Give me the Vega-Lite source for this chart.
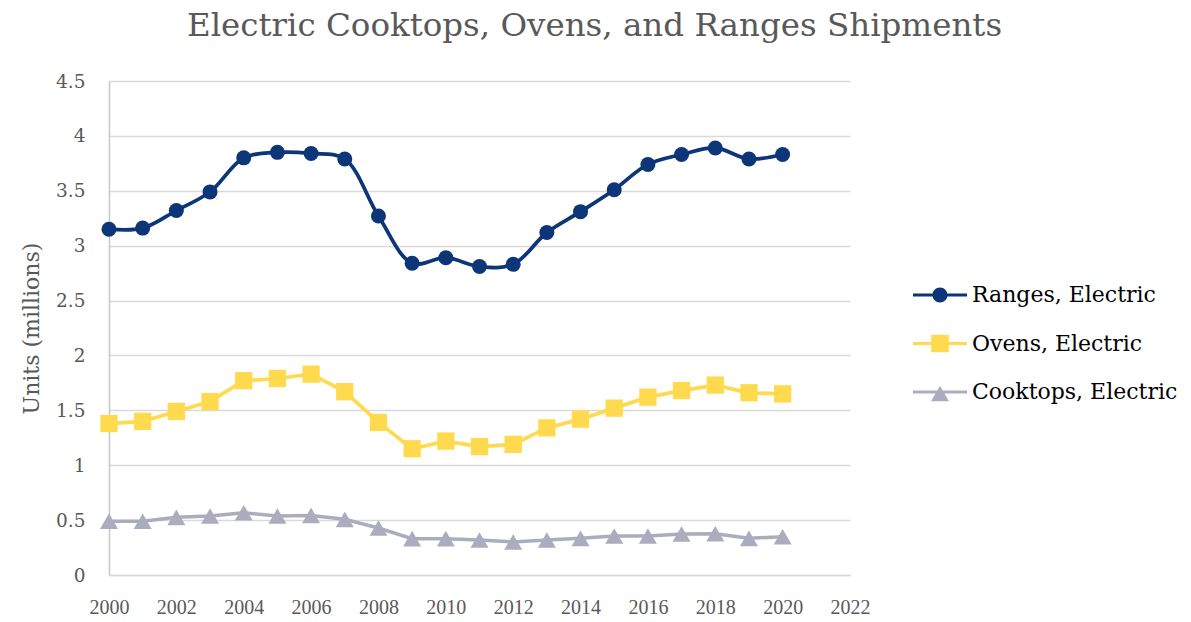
{
  "$schema": "https://vega.github.io/schema/vega-lite/v6.json",
  "width": 741,
  "height": 494,
  "autosize": {"type": "none"},
  "padding": {"left": 109, "top": 81, "right": 341, "bottom": 47},
  "background": "white",
  "config": {"view": {"stroke": null}},
  "title": {
    "text": "Electric Cooktops, Ovens, and Ranges Shipments",
    "font": "DejaVu Serif",
    "fontSize": 32.5,
    "fontWeight": "normal",
    "color": "#595959",
    "anchor": "middle",
    "frame": "group",
    "dx": 115,
    "offset": 30
  },
  "data": {
    "values": [
      {"year": 2000, "series": "Ranges, Electric", "value": 3.15},
      {"year": 2001, "series": "Ranges, Electric", "value": 3.16},
      {"year": 2002, "series": "Ranges, Electric", "value": 3.32},
      {"year": 2003, "series": "Ranges, Electric", "value": 3.49},
      {"year": 2004, "series": "Ranges, Electric", "value": 3.8},
      {"year": 2005, "series": "Ranges, Electric", "value": 3.85},
      {"year": 2006, "series": "Ranges, Electric", "value": 3.84},
      {"year": 2007, "series": "Ranges, Electric", "value": 3.79},
      {"year": 2008, "series": "Ranges, Electric", "value": 3.27},
      {"year": 2009, "series": "Ranges, Electric", "value": 2.84},
      {"year": 2010, "series": "Ranges, Electric", "value": 2.89},
      {"year": 2011, "series": "Ranges, Electric", "value": 2.81},
      {"year": 2012, "series": "Ranges, Electric", "value": 2.83},
      {"year": 2013, "series": "Ranges, Electric", "value": 3.12},
      {"year": 2014, "series": "Ranges, Electric", "value": 3.31},
      {"year": 2015, "series": "Ranges, Electric", "value": 3.51},
      {"year": 2016, "series": "Ranges, Electric", "value": 3.74},
      {"year": 2017, "series": "Ranges, Electric", "value": 3.83},
      {"year": 2018, "series": "Ranges, Electric", "value": 3.89},
      {"year": 2019, "series": "Ranges, Electric", "value": 3.79},
      {"year": 2020, "series": "Ranges, Electric", "value": 3.83},
      {"year": 2000, "series": "Ovens, Electric", "value": 1.38},
      {"year": 2001, "series": "Ovens, Electric", "value": 1.4},
      {"year": 2002, "series": "Ovens, Electric", "value": 1.49},
      {"year": 2003, "series": "Ovens, Electric", "value": 1.58},
      {"year": 2004, "series": "Ovens, Electric", "value": 1.77},
      {"year": 2005, "series": "Ovens, Electric", "value": 1.79},
      {"year": 2006, "series": "Ovens, Electric", "value": 1.83},
      {"year": 2007, "series": "Ovens, Electric", "value": 1.67},
      {"year": 2008, "series": "Ovens, Electric", "value": 1.39},
      {"year": 2009, "series": "Ovens, Electric", "value": 1.15},
      {"year": 2010, "series": "Ovens, Electric", "value": 1.22},
      {"year": 2011, "series": "Ovens, Electric", "value": 1.17},
      {"year": 2012, "series": "Ovens, Electric", "value": 1.19},
      {"year": 2013, "series": "Ovens, Electric", "value": 1.34},
      {"year": 2014, "series": "Ovens, Electric", "value": 1.42},
      {"year": 2015, "series": "Ovens, Electric", "value": 1.52},
      {"year": 2016, "series": "Ovens, Electric", "value": 1.62},
      {"year": 2017, "series": "Ovens, Electric", "value": 1.68},
      {"year": 2018, "series": "Ovens, Electric", "value": 1.73},
      {"year": 2019, "series": "Ovens, Electric", "value": 1.66},
      {"year": 2020, "series": "Ovens, Electric", "value": 1.65},
      {"year": 2000, "series": "Cooktops, Electric", "value": 0.49},
      {"year": 2001, "series": "Cooktops, Electric", "value": 0.49},
      {"year": 2002, "series": "Cooktops, Electric", "value": 0.525},
      {"year": 2003, "series": "Cooktops, Electric", "value": 0.537},
      {"year": 2004, "series": "Cooktops, Electric", "value": 0.567},
      {"year": 2005, "series": "Cooktops, Electric", "value": 0.537},
      {"year": 2006, "series": "Cooktops, Electric", "value": 0.543},
      {"year": 2007, "series": "Cooktops, Electric", "value": 0.507},
      {"year": 2008, "series": "Cooktops, Electric", "value": 0.428},
      {"year": 2009, "series": "Cooktops, Electric", "value": 0.331},
      {"year": 2010, "series": "Cooktops, Electric", "value": 0.331},
      {"year": 2011, "series": "Cooktops, Electric", "value": 0.319},
      {"year": 2012, "series": "Cooktops, Electric", "value": 0.3},
      {"year": 2013, "series": "Cooktops, Electric", "value": 0.319},
      {"year": 2014, "series": "Cooktops, Electric", "value": 0.334},
      {"year": 2015, "series": "Cooktops, Electric", "value": 0.355},
      {"year": 2016, "series": "Cooktops, Electric", "value": 0.355},
      {"year": 2017, "series": "Cooktops, Electric", "value": 0.373},
      {"year": 2018, "series": "Cooktops, Electric", "value": 0.376},
      {"year": 2019, "series": "Cooktops, Electric", "value": 0.334},
      {"year": 2020, "series": "Cooktops, Electric", "value": 0.349}
    ]
  },
  "encoding": {
    "x": {
      "field": "year",
      "type": "quantitative",
      "scale": {"domain": [2000, 2022], "nice": false, "zero": false},
      "axis": {
        "values": [2000, 2002, 2004, 2006, 2008, 2010, 2012, 2014, 2016, 2018, 2020, 2022],
        "format": "d",
        "title": null,
        "grid": false,
        "ticks": false,
        "tickSize": 0,
        "domain": true,
        "domainColor": "#D9D9D9",
        "domainWidth": 1.5,
        "labelFont": "Liberation Serif",
        "labelFontSize": 20,
        "labelColor": "#595959",
        "labelPadding": 22,
        "labelFlush": false
      }
    },
    "y": {
      "field": "value",
      "type": "quantitative",
      "scale": {"domain": [0, 4.5], "nice": false},
      "axis": {
        "values": [0, 0.5, 1, 1.5, 2, 2.5, 3, 3.5, 4, 4.5],
        "format": "~g",
        "title": "Units (millions)",
        "grid": true,
        "gridColor": "#D9D9D9",
        "gridWidth": 1.5,
        "domain": true,
        "domainColor": "#C8C8C8",
        "domainWidth": 1.5,
        "ticks": false,
        "tickSize": 0,
        "labelFont": "DejaVu Serif",
        "labelFontSize": 18.5,
        "labelColor": "#595959",
        "labelPadding": 24,
        "titleFont": "DejaVu Serif",
        "titleFontSize": 22,
        "titleFontWeight": "normal",
        "titleColor": "#595959",
        "titlePadding": 12
      }
    }
  },
  "layer": [
    {
      "transform": [{"filter": "datum.series === 'Ranges, Electric'"}],
      "mark": {"type": "line", "interpolate": "catmull-rom", "strokeWidth": 3.75, "color": "#0C3677"}
    },
    {
      "transform": [{"filter": "datum.series === 'Ovens, Electric'"}],
      "mark": {"type": "line", "interpolate": "linear", "strokeWidth": 3.75, "color": "#FFDA4F"}
    },
    {
      "transform": [{"filter": "datum.series === 'Cooktops, Electric'"}],
      "mark": {"type": "line", "interpolate": "linear", "strokeWidth": 3.5, "color": "#ABADBF"}
    },
    {
      "transform": [{"filter": "datum.series === 'Ranges, Electric'"}],
      "mark": {"type": "point", "filled": true, "opacity": 1, "shape": "circle", "size": 225, "color": "#0C3677", "strokeWidth": 0}
    },
    {
      "transform": [{"filter": "datum.series === 'Ovens, Electric'"}],
      "mark": {"type": "point", "filled": true, "opacity": 1, "shape": "square", "size": 300, "color": "#FFDA4F", "strokeWidth": 0}
    },
    {
      "transform": [{"filter": "datum.series === 'Cooktops, Electric'"}],
      "mark": {"type": "point", "filled": true, "opacity": 1, "shape": "triangle-up", "size": 324, "color": "#ABADBF", "strokeWidth": 0}
    },
    {
      "mark": {"type": "point", "filled": true, "opacity": 0, "size": 10},
      "encoding": {
        "fill": {
          "field": "series",
          "type": "nominal",
          "scale": {"domain": ["Ranges, Electric", "Ovens, Electric", "Cooktops, Electric"], "range": ["#0C3677", "#FFDA4F", "#ABADBF"]},
          "legend": {
            "orient": "none",
            "legendX": 804,
            "legendY": 187,
            "title": null,
            "padding": 0,
            "symbolSize": 2916,
            "symbolStrokeWidth": 0,
            "symbolOpacity": 1,
            "labelFont": "DejaVu Serif",
            "labelFontSize": 22,
            "labelColor": "#000000",
            "labelOffset": 5,
            "labelLimit": 0,
            "rowPadding": 10.5
          }
        },
        "shape": {
          "field": "series",
          "type": "nominal",
          "scale": {
            "domain": ["Ranges, Electric", "Ovens, Electric", "Cooktops, Electric"],
            "range": [
              "M-1,-0.056H1V0.056H-1Z M0.278,0A0.278,0.278 0 1 1 -0.278,0A0.278,0.278 0 1 1 0.278,0Z",
              "M-1,-0.056H1V0.056H-1Z M-0.326,-0.326H0.326V0.326H-0.326Z",
              "M-1,-0.056H1V0.056H-1Z M0,-0.23L0.333,0.34H-0.333Z"
            ]
          },
          "legend": {
            "orient": "none",
            "legendX": 804,
            "legendY": 187,
            "title": null,
            "padding": 0,
            "symbolSize": 2916,
            "symbolStrokeWidth": 0,
            "symbolOpacity": 1,
            "labelFont": "DejaVu Serif",
            "labelFontSize": 22,
            "labelColor": "#000000",
            "labelOffset": 5,
            "labelLimit": 0,
            "rowPadding": 10.5
          }
        }
      }
    }
  ]
}
